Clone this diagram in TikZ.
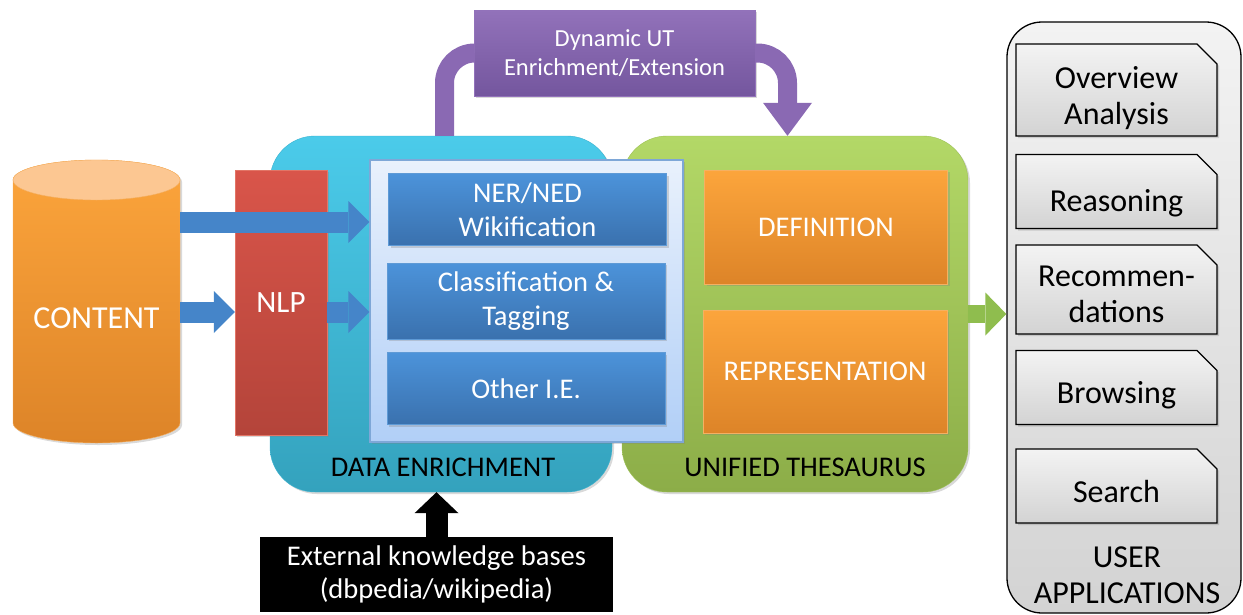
\documentclass[tikz,border=0pt]{standalone}
\usepackage{fontspec}
\setmainfont{Carlito}
\usetikzlibrary{arrows.meta,shapes.misc,shadows}

\definecolor{deTop}{HTML}{4BCBEA}
\definecolor{deBot}{HTML}{34A2BD}
\definecolor{deLine}{HTML}{3BB2CF}
\definecolor{utTop}{HTML}{B3D867}
\definecolor{utBot}{HTML}{8CAD48}
\definecolor{utLine}{HTML}{9CC055}
\definecolor{ieTop}{HTML}{E9F1FC}
\definecolor{ieBot}{HTML}{B1CFF7}
\definecolor{ieLine}{HTML}{7EA7D7}
\definecolor{blueTop}{HTML}{4C93DA}
\definecolor{blueBot}{HTML}{3A71AE}
\definecolor{blueLine}{HTML}{5E9AD6}
\definecolor{orTop}{HTML}{FCA53C}
\definecolor{orBot}{HTML}{DD8428}
\definecolor{orLine}{HTML}{F5B062}
\definecolor{cylTop}{HTML}{FCC792}
\definecolor{nlpTop}{HTML}{D9554A}
\definecolor{nlpBot}{HTML}{B4443A}
\definecolor{nlpLine}{HTML}{E27566}
\definecolor{dynTop}{HTML}{9272BA}
\definecolor{dynBot}{HTML}{74569E}
\definecolor{pipe}{HTML}{8A69B3}
\definecolor{arrowBlue}{HTML}{4585C9}
\definecolor{arrowGreen}{HTML}{8FBD4E}
\definecolor{appTop}{HTML}{F3F3F3}
\definecolor{appBot}{HTML}{D3D3D3}

\begin{document}
\begin{tikzpicture}
[x=1pt,y=-1pt,
  bigFont/.style={font=\fontsize{28.5}{34.5}\selectfont},
  appFont/.style={font=\fontsize{32}{36}\selectfont},
  shadowDecorate/.style={drop shadow={opacity=0.3,shadow xshift=2pt,shadow yshift=-2pt}},
  groupDecorate/.style={shape=rectangle,rounded corners=45pt,inner sep=0pt,shadowDecorate},
  boxDecorate/.style={shape=rectangle,inner sep=0pt,align=center,text=white,bigFont,shadowDecorate},
  blueDecorate/.style={boxDecorate,top color=blueTop,bottom color=blueBot,draw=blueLine,
    minimum width=278pt,minimum height=72pt},
  orangeDecorate/.style={boxDecorate,top color=orTop,bottom color=orBot,draw=orLine,
    minimum width=243pt},
  appDecorate/.style={chamfered rectangle,chamfered rectangle corners=north east,
    chamfered rectangle xsep=8pt,chamfered rectangle ysep=12pt,
    minimum width=201pt,minimum height=74pt,inner sep=0pt,align=center,appFont,
    top color=appTop,bottom color=appBot,draw=black,line width=1.3pt,shadowDecorate},
  pipeDecorate/.style={draw=pipe,line width=19pt,rounded corners=30pt},
  blueArrow/.style={draw=arrowBlue,line width=21pt,-{Triangle[length=21pt,width=42pt,line width=0pt]}},
  greenArrow/.style={draw=arrowGreen,line width=18pt,-{Triangle[length=21pt,width=43pt,line width=0pt]}},
  blackArrow/.style={draw=black,line width=22pt,-{Triangle[length=21pt,width=44pt,line width=0pt]}}]
\useasboundingbox (0,0) rectangle (1243,614);
%% the two big groups
\node (de) at (441,314) [groupDecorate,minimum width=342pt,minimum height=356pt,
  top color=deTop,bottom color=deBot,draw=deLine] {};
\node (ut) at (795,314) [groupDecorate,minimum width=346pt,minimum height=356pt,
  top color=utTop,bottom color=utBot,draw=utLine] {};
\node (deLabel) at (443,467) [bigFont] {DATA ENRICHMENT};
\node (utLabel) at (805,467) [bigFont] {UNIFIED THESAURUS};
%% feedback loop over the groups
\coordinate (pl) at (444.5,0);
\coordinate (pr) at (787.5,0);
\node (dyn) at (614.5,53) [boxDecorate,minimum width=281pt,minimum height=86pt,
  top color=dynTop,bottom color=dynBot,draw=dynTop,
  font=\fontsize{24.5}{28.5}\selectfont] {Dynamic UT\\Enrichment/Extension};
\draw[pipeDecorate] (de.north -| pl) |- (dyn.west);
\draw[pipeDecorate,-{Triangle[length=33pt,width=49pt,line width=0pt]}]
  (dyn.east) -| (ut.north -| pr);
%% extraction modules
\node (ie) at (526.5,301) [shape=rectangle,minimum width=313pt,minimum height=282pt,
  top color=ieTop,bottom color=ieBot,draw=ieLine,line width=1.2pt,shadowDecorate] {};
\node (ner) at (527.5,209.5) [blueDecorate] {NER/NED\\Wikification};
\node (cls) at (526,301) [blueDecorate,minimum height=76pt] {Classification \&\\Tagging};
\node (oie) at (526,388.5) [blueDecorate] {Other I.E.};
%% thesaurus parts
\node (def) at (826,227) [orangeDecorate,minimum height=114pt] {DEFINITION};
\node (rep) at (825,371.5) [orangeDecorate,minimum width=244pt,minimum height=123pt] {REPRESENTATION};
%% content store
\path[draw=orLine,top color=orTop,bottom color=orBot,shadowDecorate]
  (13,180) -- (13,423) arc[start angle=180,end angle=360,x radius=83.5pt,y radius=20pt]
  -- (180,180) arc[start angle=0,end angle=180,x radius=83.5pt,y radius=20pt] -- cycle;
\filldraw[fill=cylTop,draw=orLine] (96.5,180) ellipse [x radius=83.5pt,y radius=20pt];
\node (content) at (96.5,318) [minimum width=167pt,minimum height=240pt,inner sep=0pt,
  text=white,font=\fontsize{32}{36}\selectfont] {CONTENT};
%% nlp stage
\node (nlp) at (281,302.5) [boxDecorate,minimum width=92pt,minimum height=265pt,
  top color=nlpTop,bottom color=nlpBot,draw=nlpLine,font=\fontsize{31}{36}\selectfont] {NLP};
%% data flow
\coordinate (upper) at (0,222);
\coordinate (lower) at (0,312);
\draw[blueArrow] (content.east |- upper) -- (ie.west |- upper);
\draw[blueArrow] (content.east |- lower) -- (nlp.west |- lower);
\draw[blueArrow] (nlp.east |- lower) -- (ie.west |- lower);
%% user applications
\node (apps) at (1124,317.5) [rounded corners=35pt,minimum width=234pt,minimum height=591pt,
  top color=appTop,bottom color=appBot,draw=black,line width=1.3pt] {};
\foreach \nodename/\y/\th/\txt in {
  over/90/68pt/{Overview\\Analysis}, reas/191.5/40pt/Reasoning,
  reco/289.5/65pt/{Recommen-\\dations}, brow/387.5/31pt/Browsing, srch/486/32pt/Search}
{
  \node (\nodename) at (1116.5,\y) [appDecorate,text height=\th,text depth=0pt] {\txt};
}
\node (appsLabel) at (1127,575) [appFont,align=center] {USER\\APPLICATIONS};
\coordinate (toApps) at (0,314);
\draw[greenArrow] (ut.east |- toApps) -- (apps.west |- toApps);
%% external sources
\node (ext) at (436.5,574.5) [minimum width=353pt,minimum height=75pt,inner sep=0pt,
  fill=black,text=white,align=center,font=\fontsize{28.5}{33}\selectfont]
  {External knowledge bases\\(dbpedia/wikipedia)};
\draw[blackArrow] (ext.north) -- (ext.north |- de.south);
\end{tikzpicture}
\end{document}
